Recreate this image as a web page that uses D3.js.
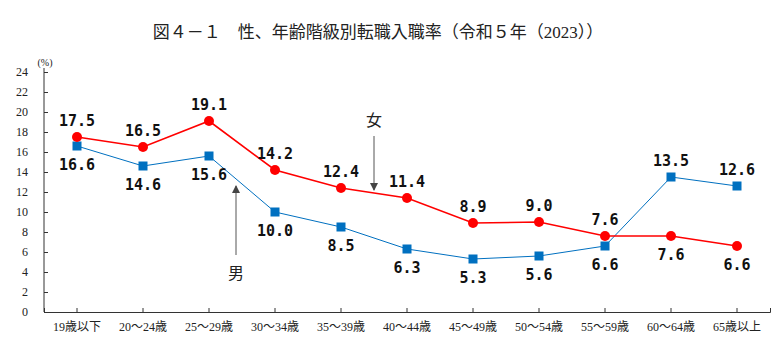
<!DOCTYPE html>
<meta charset="utf-8">
<style>
    body { margin: 0; background: #fff; }
    svg { display: block; }
    .serif { font-family: 'Liberation Serif', 'Noto Sans CJK JP', serif; fill: #222; }
    .val { font-family: 'DejaVu Sans Mono', monospace; font-weight: bold; font-size: 15px; fill: #111; }
</style>
<svg width="784" height="341"></svg>
<script src="https://cdnjs.cloudflare.com/ajax/libs/d3/7.8.5/d3.min.js"></script>
<script>

    // 年齢階級
    var ages = ["19歳以下", "20～24歳", "25～29歳", "30～34歳", "35～39歳", "40～44歳",
        "45～49歳", "50～54歳", "55～59歳", "60～64歳", "65歳以上"];
    // 女性の転職入職率 (%)
    var female = [17.5, 16.5, 19.1, 14.2, 12.4, 11.4, 8.9, 9.0, 7.6, 7.6, 6.6];
    // 男性の転職入職率 (%)
    var male = [16.6, 14.6, 15.6, 10.0, 8.5, 6.3, 5.3, 5.6, 6.6, 13.5, 12.6];
    var yTicks = [0, 2, 4, 6, 8, 10, 12, 14, 16, 18, 20, 22, 24];

    var svg = d3.select("svg");
    var plotL = 44, plotR = 770, plotT = 72, plotB = 312;

    var x = d3.scaleBand().domain(ages).range([plotL, plotR]);
    var y = d3.scaleLinear().domain([0, 24]).range([plotB, plotT]);
    var cx = function (i) { return x(ages[i]) + x.bandwidth() / 2; };

    svg.append("text").attr("class", "serif")
        .attr("x", 378).attr("y", 38)
        .attr("text-anchor", "middle")
        .style("font-size", "17px")
        .text("図４－１　性、年齢階級別転職入職率（令和５年（2023））");

    // y軸
    var yAxis = svg.append("g")
        .attr("transform", "translate(" + plotL + ",0)")
        .call(d3.axisRight(y).tickValues(yTicks).tickSize(4).tickFormat(""));
    yAxis.select(".domain").attr("d", "M0," + (plotT - 4) + "V" + plotB);
    yAxis.selectAll("line, path").attr("stroke", "#333");

    svg.append("g").selectAll("text")
        .data(yTicks)
        .enter().append("text")
        .attr("class", "serif")
        .attr("x", 28)
        .attr("y", function (d) { return y(d); })
        .attr("dy", "0.35em")
        .attr("text-anchor", "end")
        .style("font-size", "12px")
        .text(function (d) { return d; });

    svg.append("text").attr("class", "serif")
        .attr("x", 45).attr("y", 66)
        .attr("text-anchor", "middle")
        .style("font-size", "10px")
        .text("(%)");

    // x軸
    var xAxis = svg.append("g")
        .attr("transform", "translate(0," + plotB + ")")
        .call(d3.axisTop(x).tickSize(4).tickSizeOuter(4).tickFormat(""));
    xAxis.selectAll("line, path").attr("stroke", "#333");

    svg.append("g").selectAll("text")
        .data(ages)
        .enter().append("text")
        .attr("class", "serif")
        .attr("x", function (d) { return x(d) + x.bandwidth() / 2; })
        .attr("y", 331)
        .attr("text-anchor", "middle")
        .style("font-size", "12px")
        .text(function (d) { return d; });

    var line = d3.line()
        .x(function (d, i) { return cx(i); })
        .y(function (d) { return y(d); });

    // 男
    svg.append("path").datum(male)
        .attr("d", line)
        .attr("fill", "none")
        .attr("stroke", "#0070C0")
        .attr("stroke-width", 1);
    svg.append("g").selectAll("rect")
        .data(male)
        .enter().append("rect")
        .attr("x", function (d, i) { return cx(i) - 4.5; })
        .attr("y", function (d) { return y(d) - 4.5; })
        .attr("width", 9).attr("height", 9)
        .attr("fill", "#0070C0");

    // 女
    svg.append("path").datum(female)
        .attr("d", line)
        .attr("fill", "none")
        .attr("stroke", "#FF0000")
        .attr("stroke-width", 1.6);
    svg.append("g").selectAll("circle")
        .data(female)
        .enter().append("circle")
        .attr("cx", function (d, i) { return cx(i); })
        .attr("cy", function (d) { return y(d); })
        .attr("r", 5)
        .attr("fill", "#FF0000");

    // 数値ラベル: 上側の系列は点の上、下側の系列は点の下
    function labels(values, other) {
        svg.append("g").selectAll("text")
            .data(values)
            .enter().append("text")
            .attr("class", "val")
            .attr("x", function (d, i) { return cx(i); })
            .attr("y", function (d, i) {
                return d >= other[i] ? y(d) - 11 : y(d) + 24;
            })
            .attr("text-anchor", "middle")
            .text(function (d) { return d.toFixed(1); });
    }
    labels(female, male);
    labels(male, female);

    // 注記の矢印
    svg.append("defs").append("marker")
        .attr("id", "arrow").attr("markerWidth", 8).attr("markerHeight", 8)
        .attr("refX", 7).attr("refY", 4).attr("orient", "auto").attr("markerUnits", "userSpaceOnUse")
        .append("path").attr("d", "M0,0 L8,4 L0,8 z").attr("fill", "#444");

    var xF = cx(4) + 33, xM = cx(2) + 27;
    svg.append("line")
        .attr("x1", xF).attr("y1", 136).attr("x2", xF).attr("y2", 190)
        .attr("stroke", "#555").attr("marker-end", "url(#arrow)");
    svg.append("text").attr("class", "serif")
        .attr("x", xF).attr("y", 126)
        .attr("text-anchor", "middle")
        .style("font-size", "16px")
        .text("女");

    svg.append("line")
        .attr("x1", xM).attr("y1", 255).attr("x2", xM).attr("y2", 186)
        .attr("stroke", "#555").attr("marker-end", "url(#arrow)");
    svg.append("text").attr("class", "serif")
        .attr("x", xM).attr("y", 279)
        .attr("text-anchor", "middle")
        .style("font-size", "16px")
        .text("男");

</script>
